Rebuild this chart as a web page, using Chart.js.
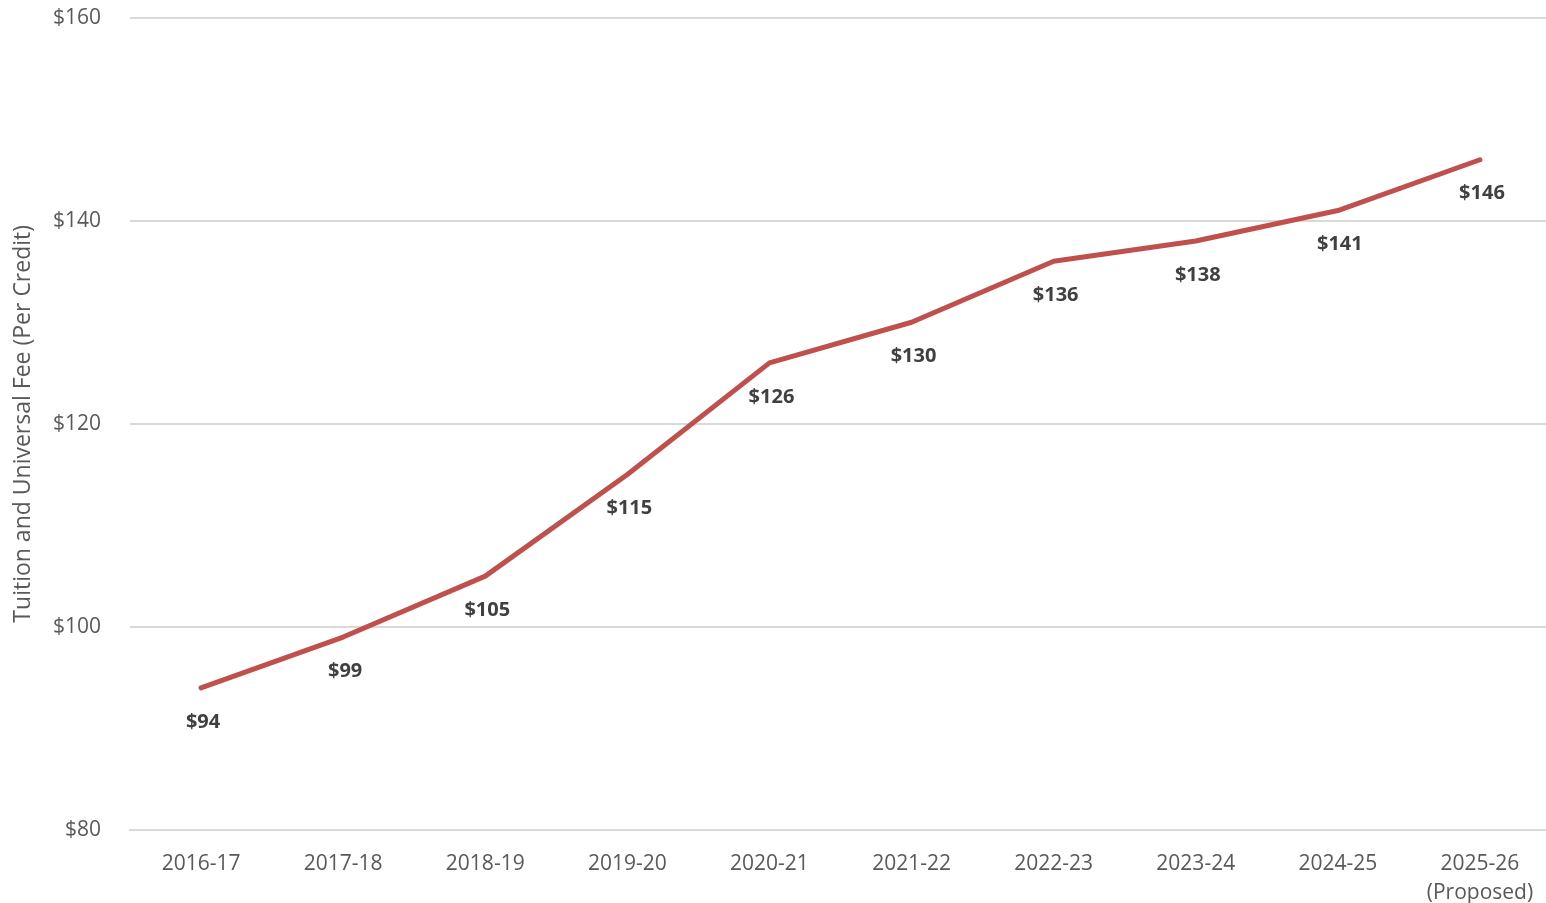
<!DOCTYPE html>
<html lang="en">
<head>
<meta charset="utf-8"/>
<title>Tuition and Universal Fee</title>
<script src="https://cdn.jsdelivr.net/npm/chart.js"></script>
<style>
  html, body { margin: 0; padding: 0; background: #fff; overflow: hidden; }
  #wrap { width: 1546px; height: 903px; overflow: hidden; position: relative; }
  #inner { position: absolute; left: 0; top: -24px; width: 1551px; height: 927px; }
</style>
</head>
<body>
<div id="wrap"><div id="inner"><canvas id="feeChart"></canvas></div></div>
<script>
const years = ["2016-17", "2017-18", "2018-19", "2019-20", "2020-21", "2021-22", "2022-23", "2023-24", "2024-25", ["2025-26", "(Proposed)"]];
const fees = [94, 99, 105, 115, 126, 130, 136, 138, 141, 146];

// labels under each point
const pointLabels = {
  id: "pointLabels",
  afterDatasetsDraw(chart) {
    const ctx = chart.ctx;
    const meta = chart.getDatasetMeta(0);
    ctx.save();
    ctx.font = "bold 20px 'Open Sans', sans-serif";
    ctx.fillStyle = "#404040";
    ctx.textAlign = "center";
    ctx.textBaseline = "middle";
    meta.data.forEach((pt, i) => {
      ctx.fillText("$" + fees[i], pt.x + 2, pt.y + 34);
    });
    ctx.restore();
  }
};

new Chart(document.getElementById("feeChart"), {
  type: "line",
  data: {
    labels: years,
    datasets: [{
      data: fees,
      borderColor: "#C0504D",
      borderWidth: 5,
      pointRadius: 0,
      tension: 0,
      borderCapStyle: "round",
      borderJoinStyle: "round"
    }]
  },
  options: {
    responsive: true,
    maintainAspectRatio: false,
    animation: false,
    layout: { padding: 0 },
    plugins: { legend: { display: false }, tooltip: { enabled: false } },
    scales: {
      x: {
        offset: true,
        grid: { display: false },
        border: { color: "#d9d9d9", width: 2 },
        ticks: {
          color: "#595959",
          font: { family: "'Open Sans', sans-serif", size: 21, lineHeight: 1.4 },
          padding: 11,
          maxRotation: 0
        },
        afterFit(scale) { scale.height = 73; }
      },
      y: {
        min: 80,
        max: 160,
        ticks: {
          stepSize: 20,
          color: "#595959",
          font: { family: "'Open Sans', sans-serif", size: 21 },
          padding: 29,
          callback: v => "$" + v
        },
        grid: { color: "#d9d9d9", lineWidth: 2, drawTicks: false },
        border: { display: false },
        title: {
          display: true,
          text: "Tuition and Universal Fee (Per Credit)",
          color: "#595959",
          font: { family: "'Open Sans', sans-serif", size: 23 },
          padding: { top: 10, bottom: 4 }
        },
        afterFit(scale) { scale.width = 130; }
      }
    }
  },
  plugins: [pointLabels]
});
</script>
</body>
</html>
